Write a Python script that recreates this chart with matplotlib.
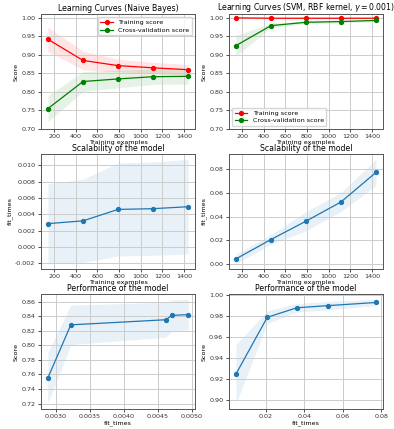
import numpy as np
import matplotlib
matplotlib.use("Agg")
import matplotlib.pyplot as plt
from matplotlib.ticker import MultipleLocator, FormatStrFormatter

# ---------------------------
# Data
# ---------------------------
train_sizes = [143, 467, 790, 1113, 1437]

# Naive Bayes
nb_train_mean = [0.942, 0.885, 0.871, 0.865, 0.860]
nb_train_std = [0.033, 0.025, 0.017, 0.015, 0.014]
nb_test_mean = [0.755, 0.828, 0.835, 0.841, 0.842]
nb_test_std = [0.035, 0.027, 0.024, 0.021, 0.021]
nb_fit_mean = [0.00288, 0.00322, 0.00462, 0.00471, 0.00495]
nb_fit_std = [0.0049, 0.0051, 0.0057, 0.0057, 0.0058]

# SVM, RBF kernel
svm_train_mean = [1.000, 0.999, 0.999, 0.999, 0.999]
svm_train_std = [0.0005, 0.001, 0.001, 0.001, 0.001]
svm_test_mean = [0.925, 0.979, 0.988, 0.990, 0.993]
svm_test_std = [0.028, 0.006, 0.004, 0.004, 0.003]
svm_fit_mean = [0.0045, 0.0208, 0.0362, 0.0523, 0.0772]
svm_fit_std = [0.004, 0.004, 0.008, 0.008, 0.011]

titles = ["Learning Curves (Naive Bayes)",
          r"Learning Curves (SVM, RBF kernel, $\gamma=0.001$)"]

FS = 4.6
TFS = 5.6


def style(ax):
    ax.tick_params(labelsize=FS, length=2.5, width=0.6, pad=1.5, colors="#333333")
    for s in ax.spines.values():
        s.set_color("#555555")
        s.set_linewidth(0.7)
    ax.grid(True, color="#cccccc", linewidth=0.7)


def ticks(ax, xstep, xfmt, ystep, yfmt):
    ax.xaxis.set_major_locator(MultipleLocator(xstep))
    ax.xaxis.set_major_formatter(FormatStrFormatter(xfmt))
    ax.yaxis.set_major_locator(MultipleLocator(ystep))
    ax.yaxis.set_major_formatter(FormatStrFormatter(yfmt))


def band(ax, x, m, s, color):
    m = np.array(m)
    s = np.array(s)
    ax.fill_between(x, m - s, m + s, alpha=0.1, color=color, linewidth=0)


fig, axes = plt.subplots(3, 2, figsize=(3.94, 4.29), dpi=100)
fig.subplots_adjust(left=0.104, right=0.972, top=0.967, bottom=0.047,
                    wspace=0.22, hspace=0.22)

sets = [
    (nb_train_mean, nb_train_std, nb_test_mean, nb_test_std, nb_fit_mean, nb_fit_std, "upper right"),
    (svm_train_mean, svm_train_std, svm_test_mean, svm_test_std, svm_fit_mean, svm_fit_std, "lower left"),
]
# tick settings per panel: (xstep, xfmt, ystep, yfmt)
tick_cfg = {
    (0, 0): (200, "%d", 0.05, "%.2f"),
    (0, 1): (200, "%d", 0.05, "%.2f"),
    (1, 0): (200, "%d", 0.002, "%.3f"),
    (1, 1): (200, "%d", 0.02, "%.2f"),
    (2, 0): (0.0005, "%.4f", 0.02, "%.2f"),
    (2, 1): (0.02, "%.2f", 0.02, "%.2f"),
}

for col, (tr_m, tr_s, te_m, te_s, ft_m, ft_s, loc) in enumerate(sets):
    # learning curve
    ax = axes[0, col]
    style(ax)
    ax.set_title(titles[col], fontsize=TFS, pad=2)
    ax.set_ylim(0.7, 1.01)
    band(ax, train_sizes, tr_m, tr_s, "r")
    band(ax, train_sizes, te_m, te_s, "g")
    ax.plot(train_sizes, tr_m, "o-", color="r", lw=0.9, ms=2.8, label="Training score")
    ax.plot(train_sizes, te_m, "o-", color="g", lw=0.9, ms=2.8, label="Cross-validation score")
    ax.set_xlabel("Training examples", fontsize=FS, labelpad=0.5)
    ax.set_ylabel("Score", fontsize=FS, labelpad=2)
    ax.legend(loc=loc, fontsize=FS, handlelength=2, borderpad=0.4, labelspacing=0.3)

    # scalability
    ax = axes[1, col]
    style(ax)
    ax.set_title("Scalability of the model", fontsize=TFS, pad=2)
    band(ax, train_sizes, ft_m, ft_s, "C0")
    ax.plot(train_sizes, ft_m, "o-", lw=0.9, ms=2.8)
    ax.set_xlabel("Training examples", fontsize=FS, labelpad=0.5)
    ax.set_ylabel("fit_times", fontsize=FS, labelpad=2)

    # performance
    ax = axes[2, col]
    style(ax)
    ax.set_title("Performance of the model", fontsize=TFS, pad=2)
    band(ax, ft_m, te_m, te_s, "C0")
    ax.plot(ft_m, te_m, "o-", lw=0.9, ms=2.8)
    ax.set_xlabel("fit_times", fontsize=FS, labelpad=0.5)
    ax.set_ylabel("Score", fontsize=FS, labelpad=2)

for (r, c), (xs, xf, ys, yf) in tick_cfg.items():
    ticks(axes[r, c], xs, xf, ys, yf)

axes[2, 0].set_xlim(0.00278, 0.00505)

fig.savefig("out.png", dpi=100)
